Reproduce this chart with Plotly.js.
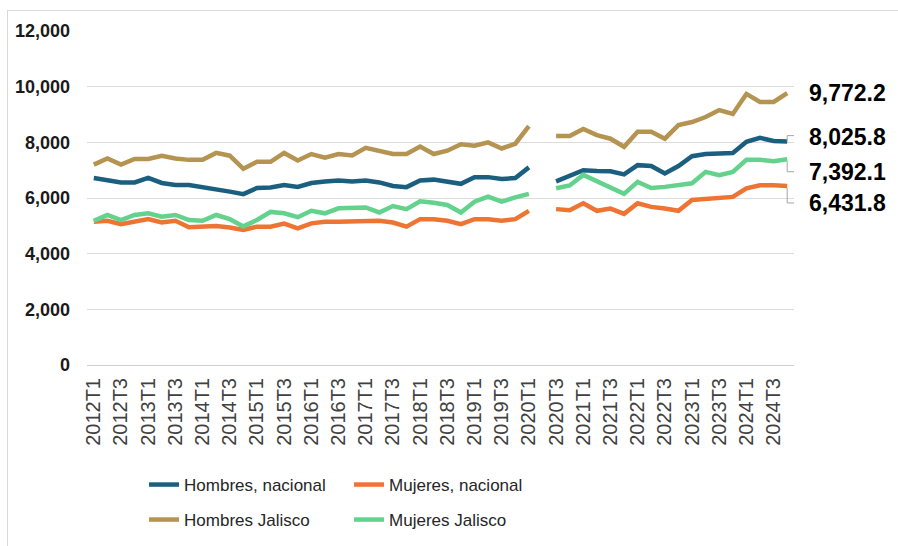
<!DOCTYPE html>
<html>
<head>
<meta charset="utf-8">
<script src="https://cdn.plot.ly/plotly-3.0.1.min.js"></script>
<style>
  html, body { margin: 0; padding: 0; background: #fff; }
  #wrap { position: relative; width: 898px; height: 546px; overflow: hidden; }
  #chart { position: absolute; left: 0; top: 0; width: 898px; height: 546px; }
  #frame { position: absolute; left: 7px; top: 10px; width: 900px; height: 545px; border: 1px solid #D9D9D9; pointer-events: none; }
</style>
</head>
<body>
<div id="wrap"><div id="chart"></div><div id="frame"></div></div>
<script>
// ---- data ----
const quarters = [
  '2012T1','2012T2','2012T3','2012T4','2013T1','2013T2','2013T3','2013T4',
  '2014T1','2014T2','2014T3','2014T4','2015T1','2015T2','2015T3','2015T4',
  '2016T1','2016T2','2016T3','2016T4','2017T1','2017T2','2017T3','2017T4',
  '2018T1','2018T2','2018T3','2018T4','2019T1','2019T2','2019T3','2019T4',
  '2020T1','2020T2','2020T3','2020T4','2021T1','2021T2','2021T3','2021T4',
  '2022T1','2022T2','2022T3','2022T4','2023T1','2023T2','2023T3','2023T4',
  '2024T1','2024T2','2024T3','2024T4'
];
const tickLabels = quarters.filter((q, i) => i % 2 === 0);

const seriesNames = ['Hombres, nacional', 'Mujeres, nacional', 'Hombres Jalisco', 'Mujeres Jalisco'];

const hombresNacional = [
  6720, 6660, 6560, 6560, 6720, 6540, 6470, 6470,
  6400, 6290, 6230, 6140, 6360, 6380, 6470, 6400,
  6540, 6590, 6630, 6590, 6630, 6560, 6430, 6390,
  6630, 6660, 6590, 6510, 6750, 6750, 6680, 6720,
  7100, null, 6600, 6820, 7000, 6970, 6960, 6850,
  7180, 7150, 6880, 7150, 7500, 7580, 7620, 7620,
  8020, 8160, 8050, 8025.8
];
const mujeresNacional = [
  5150, 5180, 5060, 5150, 5240, 5120, 5180, 4950,
  4970, 4990, 4940, 4850, 4970, 4970, 5080, 4910,
  5090, 5150, 5150, 5150, 5180, 5180, 5120, 4970,
  5240, 5240, 5180, 5060, 5240, 5240, 5180, 5240,
  5540, null, 5600, 5560, 5810, 5540, 5620, 5430,
  5810, 5680, 5620, 5540, 5930, 5980, 6010, 6040,
  6350, 6460, 6460, 6431.8
];
const hombresJalisco = [
  7200, 7420, 7200, 7400, 7400, 7520, 7420, 7370,
  7370, 7620, 7520, 7050, 7300, 7300, 7620, 7350,
  7580, 7450, 7580, 7530, 7800, 7700, 7580, 7580,
  7850, 7580, 7700, 7930, 7880, 8000, 7780, 7950,
  8580, null, 8230, 8230, 8480, 8260, 8130, 7840,
  8380, 8380, 8130, 8620, 8730, 8910, 9160, 9020,
  9740, 9450, 9450, 9772.2
];
const mujeresJalisco = [
  5180, 5390, 5210, 5390, 5450, 5330, 5390, 5210,
  5180, 5390, 5240, 4980, 5210, 5500, 5450, 5310,
  5540, 5450, 5630, 5630, 5660, 5480, 5710, 5600,
  5880, 5830, 5750, 5480, 5870, 6050, 5870, 6020,
  6150, null, 6350, 6450, 6830, 6600, 6370, 6150,
  6580, 6360, 6400, 6470, 6530, 6940, 6820, 6940,
  7370, 7370, 7320, 7392.1
];

// ---- styles ----
const colors = ['#1A5F80', '#EE7433', '#B59350', '#62D28C'];
const allSeries = [hombresNacional, mujeresNacional, hombresJalisco, mujeresJalisco];
const legendOf = ['legend', 'legend', 'legend2', 'legend2'];
// label offsets (px) and leader paths for end labels
const labelShift = [4.5, -17, 0, -12.5];
const leaderPaths = [
  'M0,0 L0,6 L10,6',
  'M0,-2 L0,-17 L10,-17',
  null,
  'M0,-2 L0,-12.5 L10,-12.5'
];

const legendFont = { family: '"Liberation Sans", Arial, sans-serif', size: 17, color: '#262626' };

const traces = allSeries.map((vals, k) => ({
  type: 'scatter',
  mode: 'lines',
  name: seriesNames[k],
  x: quarters,
  y: vals,
  connectgaps: false,
  line: { color: colors[k], width: 4.5 },
  legend: legendOf[k],
  hoverinfo: 'x+y+name'
}));

const last = quarters[quarters.length - 1];
const fmt = v => v.toLocaleString('en-US', { minimumFractionDigits: 1, maximumFractionDigits: 1 });

const annotations = allSeries.map((vals, k) => ({
  x: last,
  y: vals[vals.length - 1],
  xref: 'x', yref: 'y',
  text: fmt(vals[vals.length - 1]),
  showarrow: false,
  xanchor: 'left',
  yanchor: 'middle',
  xshift: 20,
  yshift: labelShift[k],
  font: { family: '"Liberation Sans", Arial, sans-serif', size: 23, color: '#000', weight: 'bold' }
}));

const shapes = [];
allSeries.forEach((vals, k) => {
  if (!leaderPaths[k]) return;
  shapes.push({
    type: 'path',
    xref: 'x', yref: 'y',
    xsizemode: 'pixel', ysizemode: 'pixel',
    xanchor: last, yanchor: vals[vals.length - 1],
    path: leaderPaths[k],
    line: { color: '#A6A6A6', width: 1 }
  });
});

const legendBase = {
  orientation: 'h',
  x: 0.1604, xanchor: 'left',
  yanchor: 'top',
  xref: 'container', yref: 'container',
  font: legendFont,
  entrywidth: 160,
  itemwidth: 30,
  traceorder: 'normal',
  bgcolor: 'rgba(0,0,0,0)'
};

const layout = {
  width: 898, height: 546,
  margin: { l: 87, r: 104, t: 31, b: 181, autoexpand: false },
  paper_bgcolor: 'rgba(0,0,0,0)',
  plot_bgcolor: '#fff',
  font: { family: '"Liberation Sans", Arial, sans-serif', color: '#262626' },
  showlegend: true,
  xaxis: {
    type: 'category',
    categoryorder: 'array',
    categoryarray: quarters,
    range: [-0.5, quarters.length - 0.5],
    autorange: false,
    tickmode: 'array',
    tickvals: tickLabels,
    ticktext: tickLabels,
    tickangle: -90,
    tickfont: { size: 20, color: '#404040' },
    ticks: '',
    ticklabelstandoff: 8,
    automargin: false,
    showgrid: false,
    showline: false,
    zeroline: false,
    fixedrange: true
  },
  yaxis: {
    range: [0, 12000],
    autorange: false,
    dtick: 2000,
    tickformat: ',d',
    tickfont: { size: 18, color: '#1a1a1a', weight: 'bold' },
    ticks: '',
    ticklabelstandoff: 16,
    automargin: false,
    showgrid: true,
    gridcolor: '#DCDCDC',
    gridwidth: 1,
    zeroline: true,
    zerolinecolor: '#CFCFCF',
    zerolinewidth: 1,
    showline: false,
    fixedrange: true
  },
  legend: Object.assign({}, legendBase, { y: 0.1447 }),
  legend2: Object.assign({}, legendBase, { y: 0.0806 }),
  annotations: annotations,
  shapes: shapes
};

Plotly.newPlot('chart', traces, layout, { displayModeBar: false, staticPlot: true });
</script>
</body>
</html>
